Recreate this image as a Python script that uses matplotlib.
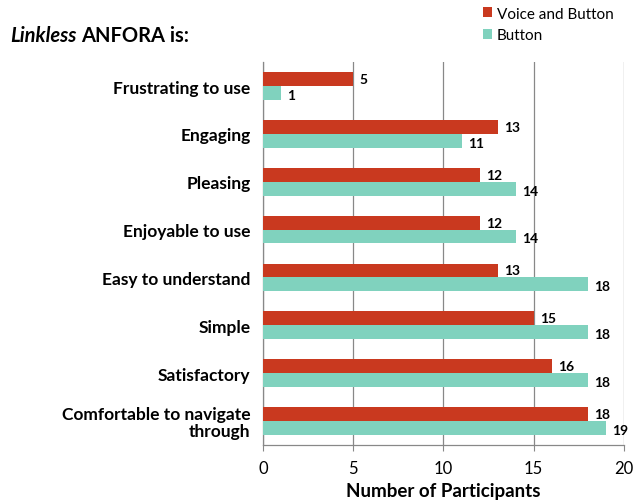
import numpy as np
import matplotlib.pyplot as plt

plt.rcParams['font.family'] = ['Lato', 'DejaVu Sans']

categories = ['Frustrating to use', 'Engaging', 'Pleasing', 'Enjoyable to use',
              'Easy to understand', 'Simple', 'Satisfactory',
              'Comfortable to navigate\nthrough']
voice_button = [5, 13, 12, 12, 13, 15, 16, 18]
button = [1, 11, 14, 14, 18, 18, 18, 19]

red = '#C9391F'
teal = '#80D2BE'

fig = plt.figure(figsize=(6.34, 5.02), dpi=100)
ax = fig.add_axes([0.415, 0.112, 0.569, 0.762])

y = np.arange(len(categories))
h = 0.29
ax.barh(y - h / 2, voice_button, height=h, color=red, label='Voice and Button', zorder=3)
ax.barh(y + h / 2, button, height=h, color=teal, label='Button', zorder=3)

for yi, v in zip(y, voice_button):
    ax.text(v + 0.35, yi - h / 2, str(v), va='center', ha='left', fontsize=10, fontweight='bold', zorder=4)
for yi, v in zip(y, button):
    ax.text(v + 0.35, yi + h / 2 + 0.04, str(v), va='center', ha='left', fontsize=10, fontweight='bold', zorder=4)

ax.set_xlim(0, 20)
ax.set_ylim(len(categories) - 0.5, -0.5)
ax.set_xticks([0, 5, 10, 15, 20])
ax.set_yticks(y)
ax.set_yticklabels(categories, fontsize=12.5, fontweight='bold', linespacing=1.05)
ax.tick_params(axis='y', length=0, pad=9)
ax.tick_params(axis='x', length=4, color='#888888', labelsize=12, pad=7)
ax.grid(axis='x', color='#888888', linewidth=0.9, zorder=0)
for s in ['top', 'right']:
    ax.spines[s].set_visible(False)
for s in ['left', 'bottom']:
    ax.spines[s].set_color('#888888')
    ax.spines[s].set_linewidth(0.9)
ax.set_xlabel('Number of Participants', fontsize=13.5, fontweight='bold', labelpad=4)

t1 = fig.text(0.016, 0.928, 'Linkless', fontsize=14.5, fontweight='bold', style='italic', va='center')
fig.canvas.draw()
bb = t1.get_window_extent().transformed(fig.transFigure.inverted())
fig.text(bb.x1 + 0.008, 0.928, 'ANFORA is:', fontsize=14.5, fontweight='bold', va='center')

fig.legend(loc='upper left', bbox_to_anchor=(0.74, 1.012), frameon=False, fontsize=11,
           handlelength=0.6, handleheight=0.6, handletextpad=0.3, labelspacing=0.5)

fig.savefig('out.png', dpi=100)
